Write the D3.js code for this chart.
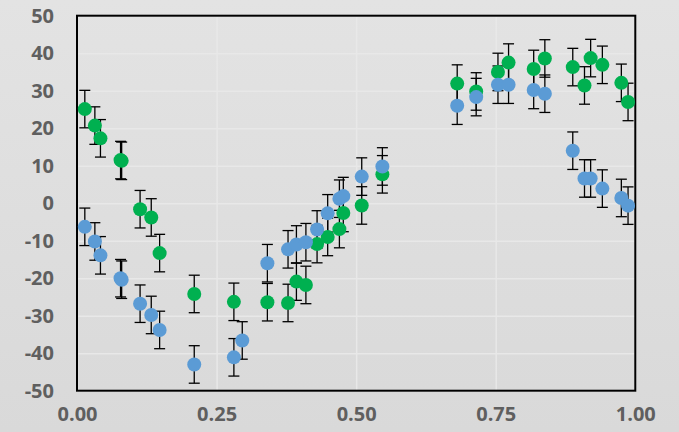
<!DOCTYPE html>
<html>
<head>
<meta charset="utf-8">
<script src="https://cdn.jsdelivr.net/npm/d3@7"></script>
<style>
  html, body { margin: 0; padding: 0; background: #dedede; }
  svg { display: block; }
  .tick text { font-family: "Open Sans", sans-serif; font-weight: 700; fill: #5f5f5f; }
</style>
</head>
<body>
<svg id="chart" width="679" height="432"></svg>
<script>
// Sample positions shared by both series
const xs = [0.014, 0.032, 0.042, 0.078, 0.080, 0.113, 0.133, 0.148, 0.210, 0.281,
            0.296, 0.341, 0.378, 0.393, 0.410, 0.430, 0.449, 0.470, 0.477, 0.510,
            0.547, 0.681, 0.715, 0.754, 0.773, 0.818, 0.838, 0.888, 0.909, 0.920,
            0.941, 0.975, 0.987];

// Green series (null = no reading at that position)
const greenValues = [25.1, 20.7, 17.3, 11.5, 11.3, -1.6, -3.8, -13.3, -24.2, -26.3,
                     null, -26.4, -26.6, -20.9, -21.8, -10.9, -9.0, -6.9, -2.6, -0.6,
                     7.7, 31.9, 29.8, 35.0, 37.5, 35.8, 38.6, 36.3, 31.4, 38.7,
                     36.9, 32.1, 27.0];

// Blue series
const blueValues = [-6.3, -10.2, -13.9, -20.0, -20.4, -26.8, -29.8, -33.8, -43.0, -41.1,
                    -36.6, -16.0, -12.3, -11.0, -10.4, -7.0, -2.7, 1.2, 1.9, 7.1,
                    9.8, 26.0, 28.3, 31.6, 31.6, 30.2, 29.2, 14.0, 6.6, 6.6,
                    3.9, 1.4, -0.65];

// Symmetric error amount applied to every point
const errorAmount = 5;

const xTicks = [0, 0.25, 0.5, 0.75, 1];
const yTicks = [-50, -40, -30, -20, -10, 0, 10, 20, 30, 40, 50];

const series = [
  { name: "green", color: "#00b050", values: greenValues },
  { name: "blue",  color: "#5b9bd5", values: blueValues }
];

const svg = d3.select("#chart");
const W = 679, H = 432;
const plot = { left: 77, right: 635.3, top: 15.7, bottom: 390.7 };

// Background
const defs = svg.append("defs");
const grad = defs.append("linearGradient").attr("id", "bg")
  .attr("x1", 0).attr("y1", 0).attr("x2", 0).attr("y2", 1);
grad.append("stop").attr("offset", "0%").attr("stop-color", "#e3e3e3");
grad.append("stop").attr("offset", "100%").attr("stop-color", "#d9d9d9");
svg.append("rect").attr("width", W).attr("height", H).attr("fill", "url(#bg)");

const x = d3.scaleLinear().domain([0, 1]).range([plot.left, plot.right]);
const y = d3.scaleLinear().domain([-50, 50]).range([plot.bottom, plot.top]);

// Gridlines
svg.append("g")
  .attr("transform", `translate(0,${plot.bottom})`)
  .call(d3.axisBottom(x).tickValues(xTicks).tickSize(-(plot.bottom - plot.top)).tickFormat(""))
  .call(g => g.select(".domain").remove())
  .call(g => g.selectAll("line").attr("stroke", "#e8e8e8").attr("stroke-width", 1.5));
svg.append("g")
  .attr("transform", `translate(${plot.left},0)`)
  .call(d3.axisLeft(y).tickValues(yTicks).tickSize(-(plot.right - plot.left)).tickFormat(""))
  .call(g => g.select(".domain").remove())
  .call(g => g.selectAll("line").attr("stroke", "#e8e8e8").attr("stroke-width", 1.5));

// Axis labels (plain hyphen for negatives)
svg.append("g")
  .attr("transform", `translate(${plot.left},0)`)
  .call(d3.axisLeft(y).tickValues(yTicks).tickSize(0).tickPadding(23).tickFormat(d => String(d)))
  .call(g => g.select(".domain").remove())
  .call(g => g.selectAll("text").style("font-size", "20px"));
svg.append("g")
  .attr("transform", `translate(0,${plot.bottom})`)
  .call(d3.axisBottom(x).tickValues(xTicks).tickSize(0).tickPadding(16).tickFormat(d => d.toFixed(2)))
  .call(g => g.select(".domain").remove())
  .call(g => g.selectAll("text").style("font-size", "20px"));

// Plot border
svg.append("rect")
  .attr("x", plot.left).attr("y", plot.top)
  .attr("width", plot.right - plot.left).attr("height", plot.bottom - plot.top)
  .attr("fill", "none").attr("stroke", "#000").attr("stroke-width", 2);

// Flatten points
const points = series.flatMap(s =>
  xs.map((xv, i) => ({ s, x: xv, v: s.values[i] })).filter(d => d.v !== null));

// Error bars (beneath all markers)
const cap = 5.5;
const eb = svg.append("g").attr("stroke", "#000").attr("stroke-width", 1.3).attr("fill", "none");
points.forEach(d => {
  const cx = x(d.x), yHi = y(d.v + errorAmount), yLo = y(d.v - errorAmount);
  eb.append("line").attr("x1", cx).attr("x2", cx).attr("y1", yHi).attr("y2", yLo);
  eb.append("line").attr("x1", cx - cap).attr("x2", cx + cap).attr("y1", yHi).attr("y2", yHi);
  eb.append("line").attr("x1", cx - cap).attr("x2", cx + cap).attr("y1", yLo).attr("y2", yLo);
});

// Markers
series.forEach(s => {
  svg.append("g").selectAll("circle")
    .data(xs.map((xv, i) => ({ x: xv, v: s.values[i] })).filter(d => d.v !== null))
    .join("circle")
    .attr("cx", d => x(d.x))
    .attr("cy", d => y(d.v))
    .attr("r", 7)
    .attr("fill", s.color);
});
</script>
</body>
</html>
